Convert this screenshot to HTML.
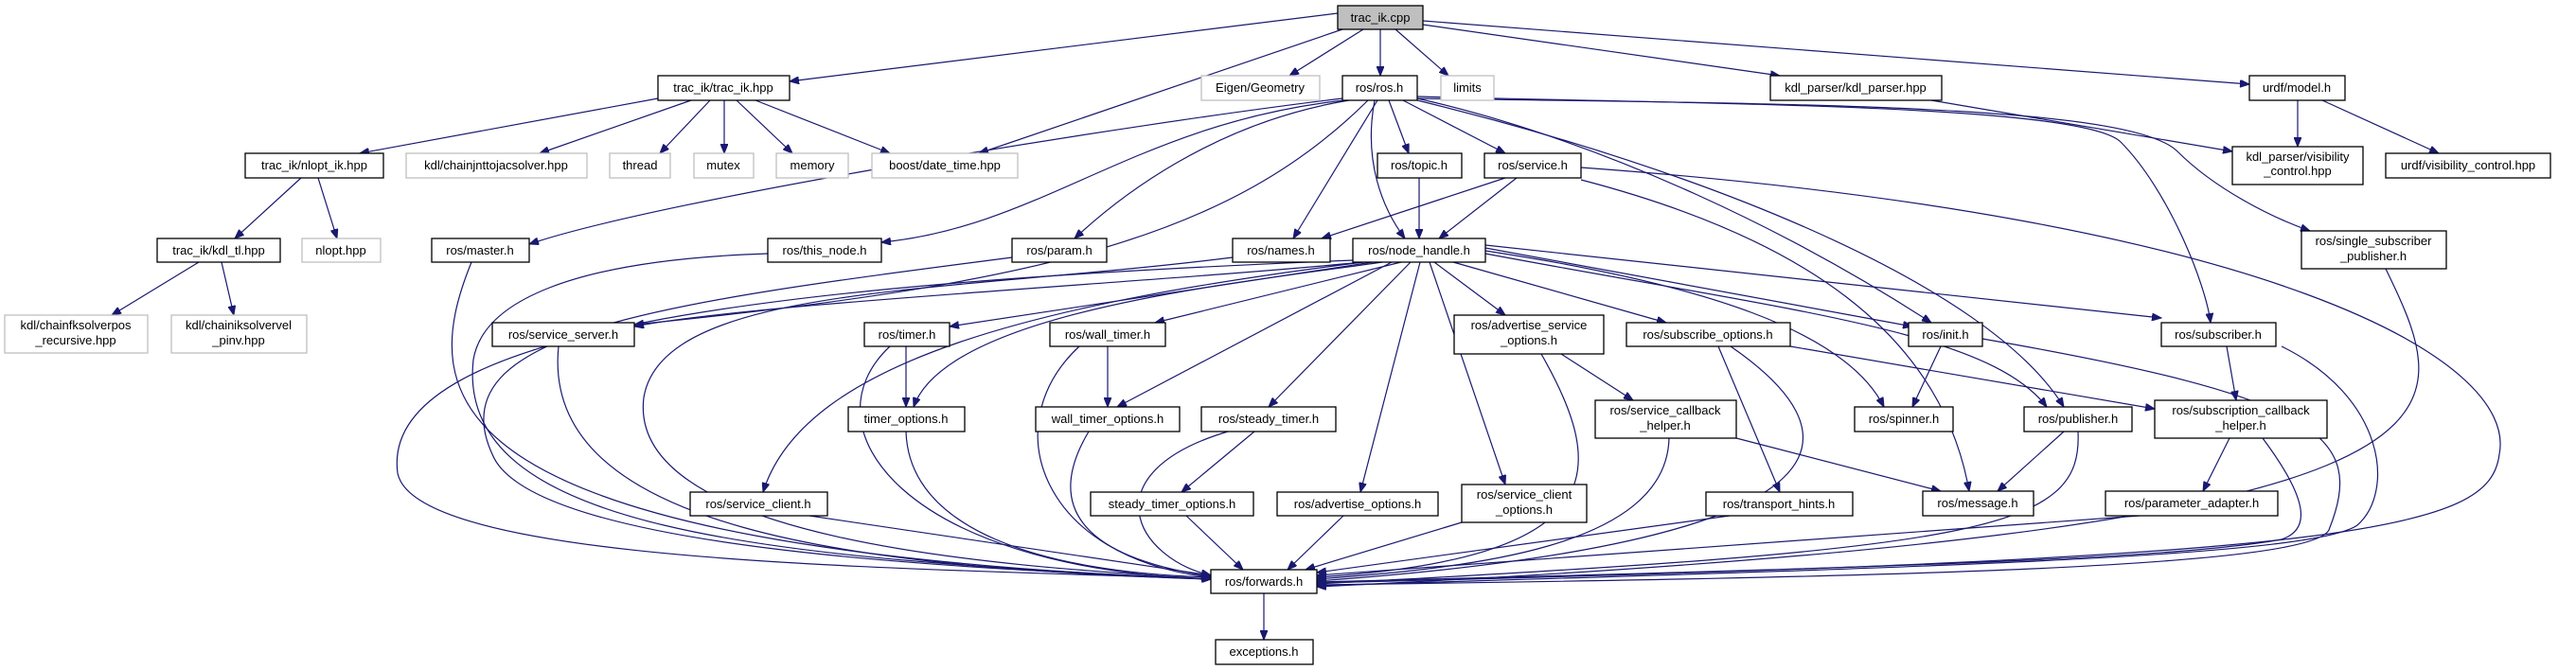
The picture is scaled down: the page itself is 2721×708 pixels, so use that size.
<!DOCTYPE html>
<html><head><meta charset="utf-8"><style>
html,body{margin:0;padding:0;background:#fff;}
svg{display:block;}
text{font-family:"Liberation Sans",sans-serif;font-size:13px;fill:#000;text-anchor:middle;}
.n{fill:#fff;stroke:#000;stroke-width:1.3;}
.g{fill:#fff;stroke:#bfbfbf;stroke-width:1.3;}
.e path{fill:none;stroke:#191970;stroke-width:1.2;marker-end:url(#a);}
</style></head><body>
<svg width="2721" height="708" viewBox="0 0 2721 708" xmlns="http://www.w3.org/2000/svg">
<defs><marker id="a" markerUnits="userSpaceOnUse" markerWidth="11" markerHeight="8" refX="10" refY="4" orient="auto"><path d="M0,0 L10,4 L0,8 z" fill="#191970" stroke="#191970"/></marker></defs>
<g class="e">
<path d="M1413,14 L834,86"/>
<path d="M1440,31 L1362,80"/>
<path d="M1458,31 L1458,80"/>
<path d="M1474,31 L1530,80"/>
<path d="M1418,31 L1034,162"/>
<path d="M1503,26 L1880,80"/>
<path d="M1503,22 L2376,89"/>
<path d="M695,104 L380,162"/>
<path d="M730,106 L570,162"/>
<path d="M750,106 L697,162"/>
<path d="M765,106 L765,162"/>
<path d="M778,106 L837,162"/>
<path d="M798,106 L940,162"/>
<path d="M318,188 L248,252"/>
<path d="M336,188 L356,252"/>
<path d="M210,277 L118,333"/>
<path d="M234,277 L247,333"/>
<path d="M2040,106 L2358,160"/>
<path d="M2427,106 L2427,155"/>
<path d="M2453,106 L2576,162"/>
<path d="M1418,104 C1200,130 700,210 559,258"/>
<path d="M1420,106 C1200,130 1100,240 931,256"/>
<path d="M1425,106 C1280,130 1180,210 1135,252"/>
<path d="M1455,106 L1366,252"/>
<path d="M1452,106 C1440,170 1460,220 1484,252"/>
<path d="M1467,106 L1488,162"/>
<path d="M1482,106 L1590,162"/>
<path d="M1445,106 C1300,250 1100,300 670,343"/>
<path d="M1497,104 C1700,150 1900,250 2040,341"/>
<path d="M1497,106 C1800,180 2100,300 2180,430"/>
<path d="M1497,102 C1800,110 2200,110 2240,150 C2290,200 2330,300 2335,341"/>
<path d="M1497,104 C1900,110 2250,110 2300,160 C2340,200 2400,230 2440,244"/>
<path d="M1590,188 L1396,252"/>
<path d="M1602,188 L1520,252"/>
<path d="M1670,190 C1900,250 2050,350 2080,519"/>
<path d="M1670,177 C2400,230 2660,380 2640,480 C2630,560 2500,590 1391,616"/>
<path d="M1499,188 L1499,252"/>
<path d="M1440,277 C1200,300 800,320 670,345"/>
<path d="M1450,277 L1003,345"/>
<path d="M1480,277 L1220,341"/>
<path d="M1490,277 L1340,430"/>
<path d="M1500,277 L1437,520"/>
<path d="M1510,277 L1590,512"/>
<path d="M1515,277 L1590,333"/>
<path d="M1535,277 L1760,341"/>
<path d="M1569,262 L2020,345"/>
<path d="M1569,265 C1800,300 1950,350 1990,430"/>
<path d="M1569,268 C1900,330 2100,350 2162,430"/>
<path d="M1569,259 L2283,336"/>
<path d="M1460,277 C1300,300 1000,330 965,430"/>
<path d="M1470,277 L1180,430"/>
<path d="M1440,277 C1100,320 850,380 806,520"/>
<path d="M1430,275 C800,300 400,350 420,500 C440,600 1000,600 1279,612"/>
<path d="M957,366 L957,430"/>
<path d="M940,366 C850,450 950,600 1279,612"/>
<path d="M1170,366 L1170,430"/>
<path d="M1140,366 C1050,450 1100,590 1279,610"/>
<path d="M1325,456 L1248,520"/>
<path d="M1297,456 C1150,500 1200,590 1279,608"/>
<path d="M957,456 C960,560 1100,605 1279,610"/>
<path d="M1150,456 C1100,540 1150,590 1279,609"/>
<path d="M1253,545 L1313,602"/>
<path d="M1419,545 L1360,602"/>
<path d="M1544,552 L1379,602"/>
<path d="M1649,374 L1725,423"/>
<path d="M1628,374 C1700,500 1700,590 1391,610"/>
<path d="M1815,366 L1880,520"/>
<path d="M1891,366 L2276,432"/>
<path d="M1828,366 C1950,450 2000,570 1391,614"/>
<path d="M1834,463 L2050,519"/>
<path d="M1763,463 C1760,580 1550,600 1391,612"/>
<path d="M1827,545 L1391,605"/>
<path d="M2050,366 L2020,430"/>
<path d="M2094,358 C2450,420 2500,460 2460,560 C2440,600 2000,610 1391,618"/>
<path d="M2180,456 L2110,519"/>
<path d="M2195,456 C2200,560 2100,580 1391,617"/>
<path d="M2352,366 L2362,423"/>
<path d="M2410,366 C2520,420 2530,520 2490,555 C2440,590 2000,600 1391,619"/>
<path d="M2355,463 L2327,519"/>
<path d="M2390,463 C2440,530 2440,560 2410,570 C2300,590 2000,600 1391,615"/>
<path d="M2260,545 L1391,608"/>
<path d="M2520,284 C2600,450 2650,560 1391,620"/>
<path d="M1335,627 L1335,676"/>
<path d="M811,268 C600,275 510,320 500,380 C480,560 800,590 1279,612"/>
<path d="M1069,272 C700,320 460,350 520,480 C560,580 1000,600 1279,612"/>
<path d="M1302,272 C1000,310 700,300 680,420 C660,580 1100,600 1279,612"/>
<path d="M498,277 C440,420 450,580 1279,612"/>
<path d="M590,366 C570,560 900,600 1279,612"/>
<path d="M855,545 L1279,608"/>
</g>
<g>
<rect x="1413" y="6" width="90" height="25" fill="#bfbfbf" stroke="#000" stroke-width="1.3"/><text x="1458" y="23">trac_ik.cpp</text>
<rect class="n" x="695" y="80" width="139" height="26"/><text x="764" y="97">trac_ik/trac_ik.hpp</text>
<rect class="g" x="1269" y="80" width="125" height="26"/><text x="1331" y="97">Eigen/Geometry</text>
<rect class="n" x="1418" y="80" width="79" height="26"/><text x="1457" y="97">ros/ros.h</text>
<rect class="g" x="1522" y="80" width="56" height="26"/><text x="1550" y="97">limits</text>
<rect class="n" x="1870" y="80" width="181" height="26"/><text x="1960" y="97">kdl_parser/kdl_parser.hpp</text>
<rect class="n" x="2376" y="80" width="101" height="26"/><text x="2426" y="97">urdf/model.h</text>
<rect class="n" x="259" y="162" width="146" height="26"/><text x="332" y="179">trac_ik/nlopt_ik.hpp</text>
<rect class="g" x="429" y="162" width="191" height="26"/><text x="524" y="179">kdl/chainjnttojacsolver.hpp</text>
<rect class="g" x="644" y="162" width="64" height="26"/><text x="676" y="179">thread</text>
<rect class="g" x="733" y="162" width="63" height="26"/><text x="764" y="179">mutex</text>
<rect class="g" x="820" y="162" width="76" height="26"/><text x="858" y="179">memory</text>
<rect class="g" x="921" y="162" width="154" height="26"/><text x="998" y="179">boost/date_time.hpp</text>
<rect class="n" x="1455" y="162" width="89" height="26"/><text x="1499" y="179">ros/topic.h</text>
<rect class="n" x="1568" y="162" width="102" height="26"/><text x="1619" y="179">ros/service.h</text>
<rect class="n" x="2358" y="155" width="138" height="40"/><text x="2427" y="170">kdl_parser/visibility</text><text x="2427" y="185">_control.hpp</text>
<rect class="n" x="2520" y="162" width="174" height="26"/><text x="2607" y="179">urdf/visibility_control.hpp</text>
<rect class="n" x="166" y="252" width="130" height="25"/><text x="231" y="269">trac_ik/kdl_tl.hpp</text>
<rect class="g" x="319" y="252" width="83" height="25"/><text x="360" y="269">nlopt.hpp</text>
<rect class="n" x="456" y="252" width="103" height="25"/><text x="507" y="269">ros/master.h</text>
<rect class="n" x="811" y="252" width="120" height="25"/><text x="871" y="269">ros/this_node.h</text>
<rect class="n" x="1069" y="252" width="100" height="25"/><text x="1119" y="269">ros/param.h</text>
<rect class="n" x="1302" y="252" width="103" height="25"/><text x="1353" y="269">ros/names.h</text>
<rect class="n" x="1429" y="252" width="140" height="25"/><text x="1499" y="269">ros/node_handle.h</text>
<rect class="n" x="2431" y="244" width="153" height="40"/><text x="2507" y="259">ros/single_subscriber</text><text x="2507" y="275">_publisher.h</text>
<rect class="g" x="5" y="333" width="151" height="40"/><text x="80" y="348">kdl/chainfksolverpos</text><text x="80" y="364">_recursive.hpp</text>
<rect class="g" x="181" y="333" width="143" height="40"/><text x="252" y="348">kdl/chainiksolvervel</text><text x="252" y="364">_pinv.hpp</text>
<rect class="n" x="520" y="341" width="150" height="25"/><text x="595" y="358">ros/service_server.h</text>
<rect class="n" x="913" y="341" width="90" height="25"/><text x="958" y="358">ros/timer.h</text>
<rect class="n" x="1109" y="341" width="122" height="25"/><text x="1170" y="358">ros/wall_timer.h</text>
<rect class="n" x="1536" y="333" width="158" height="41"/><text x="1615" y="348">ros/advertise_service</text><text x="1615" y="364">_options.h</text>
<rect class="n" x="1718" y="341" width="173" height="25"/><text x="1804" y="358">ros/subscribe_options.h</text>
<rect class="n" x="2016" y="341" width="78" height="25"/><text x="2055" y="358">ros/init.h</text>
<rect class="n" x="2283" y="341" width="121" height="25"/><text x="2343" y="358">ros/subscriber.h</text>
<rect class="n" x="896" y="430" width="123" height="26"/><text x="957" y="447">timer_options.h</text>
<rect class="n" x="1094" y="430" width="152" height="26"/><text x="1170" y="447">wall_timer_options.h</text>
<rect class="n" x="1269" y="430" width="142" height="26"/><text x="1340" y="447">ros/steady_timer.h</text>
<rect class="n" x="1685" y="423" width="149" height="40"/><text x="1759" y="438">ros/service_callback</text><text x="1759" y="454">_helper.h</text>
<rect class="n" x="1959" y="430" width="104" height="26"/><text x="2011" y="447">ros/spinner.h</text>
<rect class="n" x="2138" y="430" width="114" height="26"/><text x="2195" y="447">ros/publisher.h</text>
<rect class="n" x="2276" y="423" width="182" height="40"/><text x="2367" y="438">ros/subscription_callback</text><text x="2367" y="454">_helper.h</text>
<rect class="n" x="729" y="520" width="145" height="25"/><text x="801" y="537">ros/service_client.h</text>
<rect class="n" x="1152" y="520" width="172" height="25"/><text x="1238" y="537">steady_timer_options.h</text>
<rect class="n" x="1349" y="520" width="170" height="25"/><text x="1434" y="537">ros/advertise_options.h</text>
<rect class="n" x="1544" y="512" width="132" height="40"/><text x="1610" y="527">ros/service_client</text><text x="1610" y="543">_options.h</text>
<rect class="n" x="1802" y="520" width="155" height="25"/><text x="1879" y="537">ros/transport_hints.h</text>
<rect class="n" x="2031" y="519" width="117" height="26"/><text x="2089" y="536">ros/message.h</text>
<rect class="n" x="2224" y="519" width="182" height="26"/><text x="2315" y="536">ros/parameter_adapter.h</text>
<rect class="n" x="1279" y="602" width="112" height="25"/><text x="1335" y="619">ros/forwards.h</text>
<rect class="n" x="1284" y="676" width="103" height="26"/><text x="1335" y="693">exceptions.h</text>
</g>
</svg>
</body></html>
